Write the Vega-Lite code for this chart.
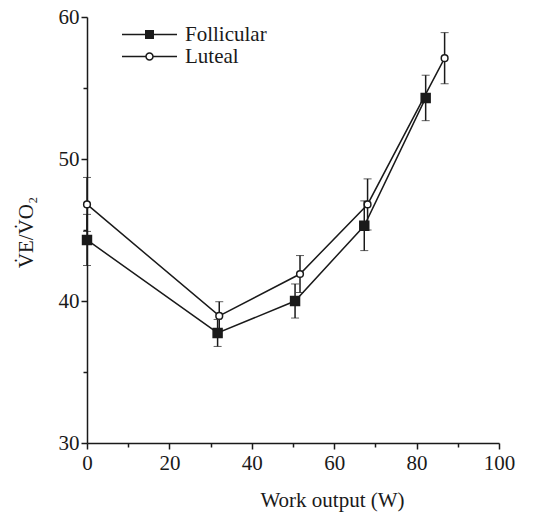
{
  "$schema": "https://vega.github.io/schema/vega-lite/v6.json",
  "autosize": "none",
  "width": 412,
  "height": 426,
  "padding": {"left": 87, "top": 17, "right": 55, "bottom": 69},
  "background": "white",
  "config": {
    "view": {"stroke": null},
    "font": "Liberation Serif, Times New Roman, serif",
    "axis": {
      "domainColor": "#1a1a1a", "domainWidth": 1.5,
      "tickColor": "#1a1a1a", "tickWidth": 1.5,
      "labelFont": "Liberation Serif, Times New Roman, serif", "labelFontSize": 21, "labelColor": "#1a1a1a",
      "titleFont": "Liberation Serif, Times New Roman, serif", "titleFontSize": 21, "titleColor": "#1a1a1a", "titleFontWeight": "normal",
      "grid": false
    }
  },
  "data": {"values": [
    {"series": "Follicular", "work": 0, "ratio": 44.3, "se": 1.8},
    {"series": "Follicular", "work": 31.7, "ratio": 37.75, "se": 0.95},
    {"series": "Follicular", "work": 50.5, "ratio": 40.0, "se": 1.2},
    {"series": "Follicular", "work": 67.3, "ratio": 45.3, "se": 1.75},
    {"series": "Follicular", "work": 82.2, "ratio": 54.3, "se": 1.6},
    {"series": "Luteal", "work": 0, "ratio": 46.8, "se": 1.9},
    {"series": "Luteal", "work": 32.1, "ratio": 38.95, "se": 1.0},
    {"series": "Luteal", "work": 51.7, "ratio": 41.9, "se": 1.3},
    {"series": "Luteal", "work": 68.1, "ratio": 46.8, "se": 1.8},
    {"series": "Luteal", "work": 86.8, "ratio": 57.1, "se": 1.8}
  ]},
  "encoding": {
    "x": {"field": "work", "type": "quantitative",
      "scale": {"domain": [0, 100], "nice": false, "zero": false},
      "axis": {
        "title": "Work output (W)",
        "values": [0, 10, 20, 30, 40, 50, 60, 70, 80, 90, 100],
        "labelExpr": "datum.value % 20 === 0 ? datum.label : ''",
        "labelOverlap": false, "labelFlush": false, "labelPadding": 3,
        "tickSize": {"condition": {"test": "datum.value % 20 === 0", "value": 6}, "value": 4},
        "titleX": 245, "titleY": 63, "titleBaseline": "alphabetic", "titleAlign": "center", "titleAnchor": null
      }},
    "y": {"field": "ratio", "type": "quantitative",
      "scale": {"domain": [30, 60], "nice": false, "zero": false},
      "axis": {
        "title": "V̇E/V̇O₂",
        "values": [30, 35, 40, 45, 50, 55, 60],
        "labelExpr": "datum.value % 10 === 0 ? datum.label : ''",
        "labelOverlap": false, "labelFlush": false, "labelPadding": 2,
        "tickSize": {"condition": {"test": "datum.value % 10 === 0", "value": 6}, "value": 4},
        "titleAngle": -90, "titleX": -55, "titleY": 215, "titleAlign": "center", "titleBaseline": "alphabetic", "titleAnchor": null
      }}
  },
  "layer": [
    {
      "mark": {"type": "line", "color": "#1a1a1a", "strokeWidth": 1.5},
      "encoding": {"detail": {"field": "series"}}
    },
    {
      "mark": {"type": "errorbar", "ticks": {"size": 8, "color": "#1a1a1a", "strokeWidth": 1.5}, "rule": {"color": "#1a1a1a", "strokeWidth": 1.5}},
      "encoding": {"yError": {"field": "se"}, "detail": {"field": "series"}}
    },
    {
      "mark": {"type": "point", "filled": false, "stroke": "#1a1a1a", "strokeWidth": 1.5, "opacity": 1},
      "encoding": {
        "shape": {"field": "series", "type": "nominal",
          "scale": {"domain": ["Follicular", "Luteal"], "range": ["square", "circle"]},
          "legend": null},
        "fill": {"condition": {"test": "datum.series === 'Follicular'", "value": "#1a1a1a"}, "value": "white"},
        "size": {"condition": {"test": "datum.series === 'Follicular'", "value": 80}, "value": 45}
      }
    },
    {
      "transform": [{"filter": "false"}],
      "mark": {"type": "point", "filled": true, "color": "#1a1a1a", "opacity": 1},
      "encoding": {
        "shape": {"field": "series", "type": "nominal",
          "scale": {"domain": ["Follicular", "Luteal"], "range": [
            "M-5.5,-0.15H5.5V0.15H-5.5Z M-0.9,-0.9H0.9V0.9H-0.9Z",
            "M-5.5,-0.15H-0.7V0.15H-5.5Z M0.7,-0.15H5.5V0.15H0.7Z M0.85,0A0.85,0.85,0,1,1,-0.85,0A0.85,0.85,0,1,1,0.85,0Z M0.55,0A0.55,0.55,0,1,0,-0.55,0A0.55,0.55,0,1,0,0.55,0Z"
          ]},
          "legend": {
            "title": null, "orient": "none", "legendX": 52, "legendY": 7,
            "labelFont": "Liberation Serif, Times New Roman, serif", "labelFontSize": 21, "labelColor": "#1a1a1a",
            "labelOffset": 25, "rowPadding": 0, "symbolSize": 100, "symbolStrokeWidth": 0,
            "symbolFillColor": "#1a1a1a", "symbolOpacity": 1
          }}
      }
    }
  ],
  "resolve": {"scale": {"shape": "independent"}}
}
